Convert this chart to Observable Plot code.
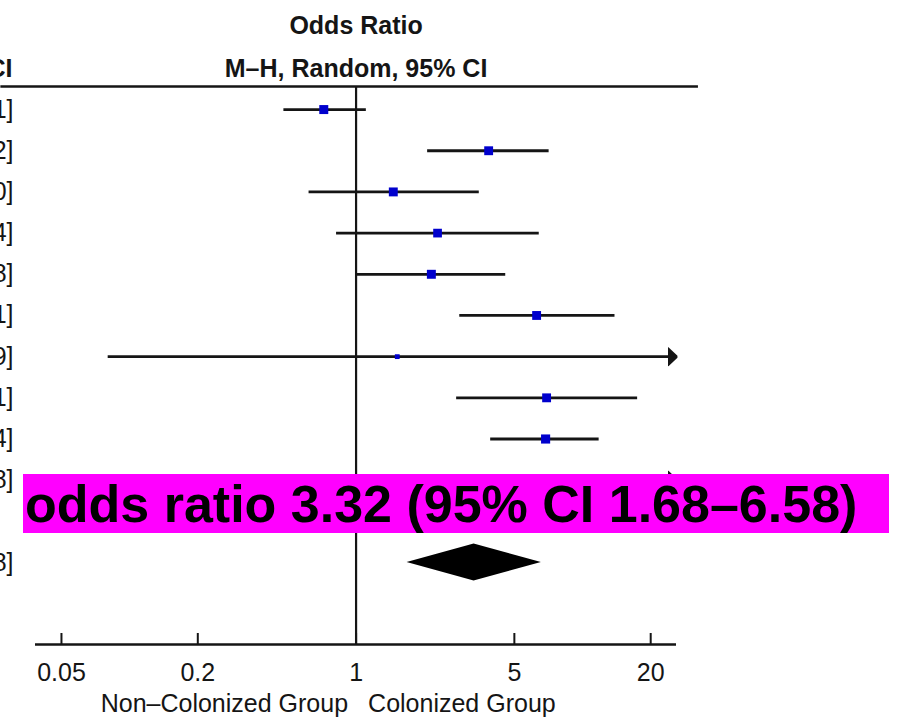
<!DOCTYPE html>
<html>
<head>
<meta charset="utf-8">
<script src="https://cdn.jsdelivr.net/npm/d3@7"></script>
<script src="https://cdn.jsdelivr.net/npm/@observablehq/plot@0.6"></script>
<style>
  html, body { margin: 0; padding: 0; background: #fff; }
  #wrap { position: relative; width: 899px; height: 721px; overflow: hidden; background: #fff; }
  #banner {
    position: absolute; left: 23px; top: 474px; width: 866px; height: 59px;
    background: #ff00ff; color: #000; box-sizing: border-box; padding-left: 2px;
    font: bold 52px "Liberation Sans", Arial, sans-serif; line-height: 61px; white-space: nowrap;
  }
</style>
</head>
<body>
<div id="wrap"></div>
<script>
// ---- data ----
const oddsRatio = [0.72, 3.85, 1.46, 2.29, 2.15, 6.27, 1.52, 6.94, 6.87, 10.50];
const ciLower   = [0.48, 2.07, 0.62, 0.82, 1.01, 2.87, 0.08, 2.78, 3.93, 4.05];
const ciUpper   = [1.11, 7.12, 3.50, 6.44, 4.58, 13.91, 30.79, 17.51, 11.84, 31.18];
const weight    = [10.9, 10.6, 10.7, 10.2, 10.8, 10.6, 3.1, 10.6, 11.2, 11.3];
const summaryOR = 3.32, summaryLower = 1.68, summaryUpper = 6.58;
const xTicks = [0.05, 0.2, 1, 5, 20];
const headerTitle = "Odds Ratio";
const headerSub = "M–H, Random, 95% CI";
const favoursLeft = "Non–Colonized Group";
const favoursRight = "Colonized Group";

// ---- layout ----
const xDomain = [0.0384, 26];     // plotted range of the log axis
const tableSpan = [0.027, 32.5];  // extent of the table header rule
const yDomain = [-0.56, 12.99];
const summaryRow = 11;
const diamondHalf = 0.45;

const fmt = (or, lo, hi) => `${or.toFixed(2)} [${lo.toFixed(2)}, ${hi.toFixed(2)}]`;
const rows = oddsRatio.map((or, i) => ({
  row: i, or, lo: ciLower[i], hi: ciUpper[i], w: weight[i], label: fmt(or, ciLower[i], ciUpper[i])
}));
const closed = rows.filter(d => d.hi <= xDomain[1]);
const open = rows.filter(d => d.hi > xDomain[1]);
const labels = [...rows, {row: summaryRow, label: fmt(summaryOR, summaryLower, summaryUpper)}];
const diamond = [
  {y: summaryRow - diamondHalf, x1: summaryOR, x2: summaryOR},
  {y: summaryRow, x1: summaryLower, x2: summaryUpper},
  {y: summaryRow + diamondHalf, x1: summaryOR, x2: summaryOR}
];

const arrowHead = (color) => d3.create("svg:marker")
  .attr("viewBox", "0 -10 10 20")
  .attr("markerUnits", "userSpaceOnUse")
  .attr("markerWidth", 10).attr("markerHeight", 20)
  .attr("refX", 9).attr("refY", 0).attr("orient", "auto")
  .call(m => m.append("path").attr("d", "M0,-8.5L9,0L0,8.5Z").attr("fill", color))
  .node();

const W = 899, H = 721, mT = 86, mB = 77, mL = 35, mR = 223;
const ink = "#151515";

const chart = Plot.plot({
  width: W, height: H,
  marginTop: mT, marginBottom: mB, marginLeft: mL, marginRight: mR,
  style: {fontFamily: "'Liberation Sans', Arial, sans-serif", fontSize: "25px", background: "#fff", color: ink},
  x: {type: "log", domain: xDomain, axis: null},
  y: {domain: yDomain, reverse: true, axis: null},
  r: {type: "sqrt", domain: [0, 11], range: [0, 5.1]},
  marks: [
    Plot.ruleY([yDomain[0]], {x1: tableSpan[0], x2: tableSpan[1], stroke: ink, strokeWidth: 2.5}),
    Plot.ruleY([yDomain[1]], {stroke: ink, strokeWidth: 2.5}),
    Plot.ruleX([1], {stroke: ink, strokeWidth: 2.2}),
    Plot.ruleX(xTicks, {stroke: ink, strokeWidth: 2, insetTop: H - mT - mB - 11}),
    Plot.text(xTicks, {x: d => d, frameAnchor: "bottom", lineAnchor: "middle", dy: 28, text: d => String(d), fill: ink}),
    Plot.ruleY(closed, {y: "row", x1: "lo", x2: "hi", stroke: ink, strokeWidth: 2.8}),
    Plot.link(open, {y1: "row", y2: "row", x1: "lo", x2: () => xDomain[1], stroke: ink, strokeWidth: 2.8, markerEnd: arrowHead}),
    Plot.dot(rows, {x: "or", y: "row", r: "w", symbol: "square", fill: "#0000cd"}),
    Plot.areaX(diamond, {y: "y", x1: "x1", x2: "x2", fill: "#000", curve: "linear"}),
    Plot.text([headerTitle], {x: 1, frameAnchor: "top", lineAnchor: "middle", dy: -61, text: d => d, fontWeight: "bold"}),
    Plot.text([headerSub], {x: 1, frameAnchor: "top", lineAnchor: "middle", dy: -18, text: d => d, fontWeight: "bold"}),
    Plot.text([headerSub], {frameAnchor: "top-left", lineAnchor: "middle", dx: -23, dy: -18, text: d => d, textAnchor: "end", fontWeight: "bold"}),
    Plot.text(labels, {y: "row", frameAnchor: "left", lineAnchor: "middle", dx: -22, textAnchor: "end", text: "label"}),
    Plot.text([favoursLeft], {x: 1, frameAnchor: "bottom", lineAnchor: "middle", dy: 59, dx: -8, textAnchor: "end", text: d => d}),
    Plot.text([favoursRight], {x: 1, frameAnchor: "bottom", lineAnchor: "middle", dy: 59, dx: 12, textAnchor: "start", text: d => d})
  ]
});

const wrap = document.getElementById("wrap");
wrap.appendChild(chart);
const banner = document.createElement("div");
banner.id = "banner";
banner.textContent = `odds ratio ${summaryOR.toFixed(2)} (95% CI ${summaryLower.toFixed(2)}–${summaryUpper.toFixed(2)})`;
wrap.appendChild(banner);
</script>
</body>
</html>
